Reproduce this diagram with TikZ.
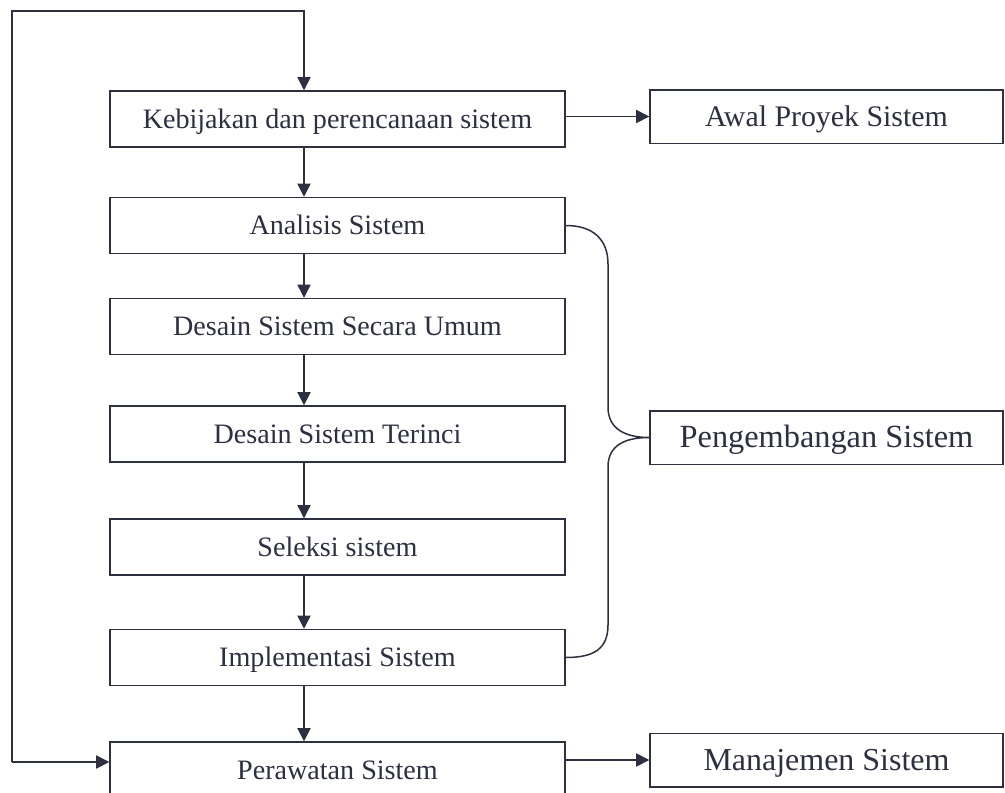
\documentclass[tikz,border=0pt]{standalone}
\usepackage{fontspec}
\setmainfont{Liberation Serif}
\usetikzlibrary{arrows.meta}
\definecolor{ink}{RGB}{44,48,64}
\tikzset{
  box/.style={draw=ink, line width=0.85pt, text=ink, inner sep=0pt,
              minimum width=9.1cm, minimum height=1.12cm,
              text height=10.8pt, text depth=0pt,
              font=\fontsize{16}{19}\selectfont},
  sidebox/.style={box, minimum width=7.06cm, minimum height=1.07cm,
                  text height=11.8pt},
  link/.style={draw=ink, line width=0.85pt},
  arr/.style={link, -{Triangle[width=7.5pt,length=7.5pt]}}
}
\begin{document}
\begin{tikzpicture}[x=0.02cm, y=-0.02cm]
  \clip (0,0) rectangle (1005,792);
  \fill[white] (0,0) rectangle (1005,792);

  % main column of stages
  \node[box] (kb) at (337.5,119)   {Kebijakan dan perencanaan sistem};
  \node[box] (an) at (337.5,225.5) {Analisis Sistem};
  \node[box] (du) at (337.5,326.5) {Desain Sistem Secara Umum};
  \node[box] (dt) at (337.5,434)   {Desain Sistem Terinci};
  \node[box] (sl) at (337.5,547)   {Seleksi sistem};
  \node[box] (im) at (337.5,657.5) {Implementasi Sistem};
  \node[box] (pr) at (337.5,770)   {Perawatan Sistem};

  % groups on the right
  \node[sidebox, font=\fontsize{17}{20}\selectfont] (aw) at (826.5,116.5) {Awal Proyek Sistem};
  \node[sidebox, font=\fontsize{18.4}{22}\selectfont] (pg) at (826.5,437.5) {Pengembangan Sistem};
  \node[sidebox, font=\fontsize{18.2}{22}\selectfont] (mj) at (826.5,760) {Manajemen Sistem};

  % vertical flow, slightly left of the box centres
  \coordinate (ax) at (304,0);
  \foreach \a/\b in {kb/an, an/du, du/dt, dt/sl, sl/im, im/pr}
    \draw[arr] (\a.south -| ax) -- (\b.north -| ax);

  % feedback loop from maintenance back to planning
  \coordinate (lb) at (12,762);
  \coordinate (tp) at (304,11);
  \draw[arr] (lb) |- (tp) -- (kb.north -| tp);
  \draw[arr] (lb) -- (pr.west |- lb);

  % links to the right-hand groups
  \draw[arr] (kb.east |- aw.west) -- (aw.west);
  \draw[arr] (pr.east |- mj.west) -- (mj.west);

  % brace gathering the development stages
  \draw[link] (an.east) .. controls +(28,0) and +(0,-24) .. (608,264)
    -- (608,407) .. controls +(0,22) and +(-24,0) .. (pg.west)
    .. controls +(-24,0) and +(0,-22) .. (608,467)
    -- (608,625) .. controls +(0,24) and +(28,0) .. (im.east);
\end{tikzpicture}
\end{document}
